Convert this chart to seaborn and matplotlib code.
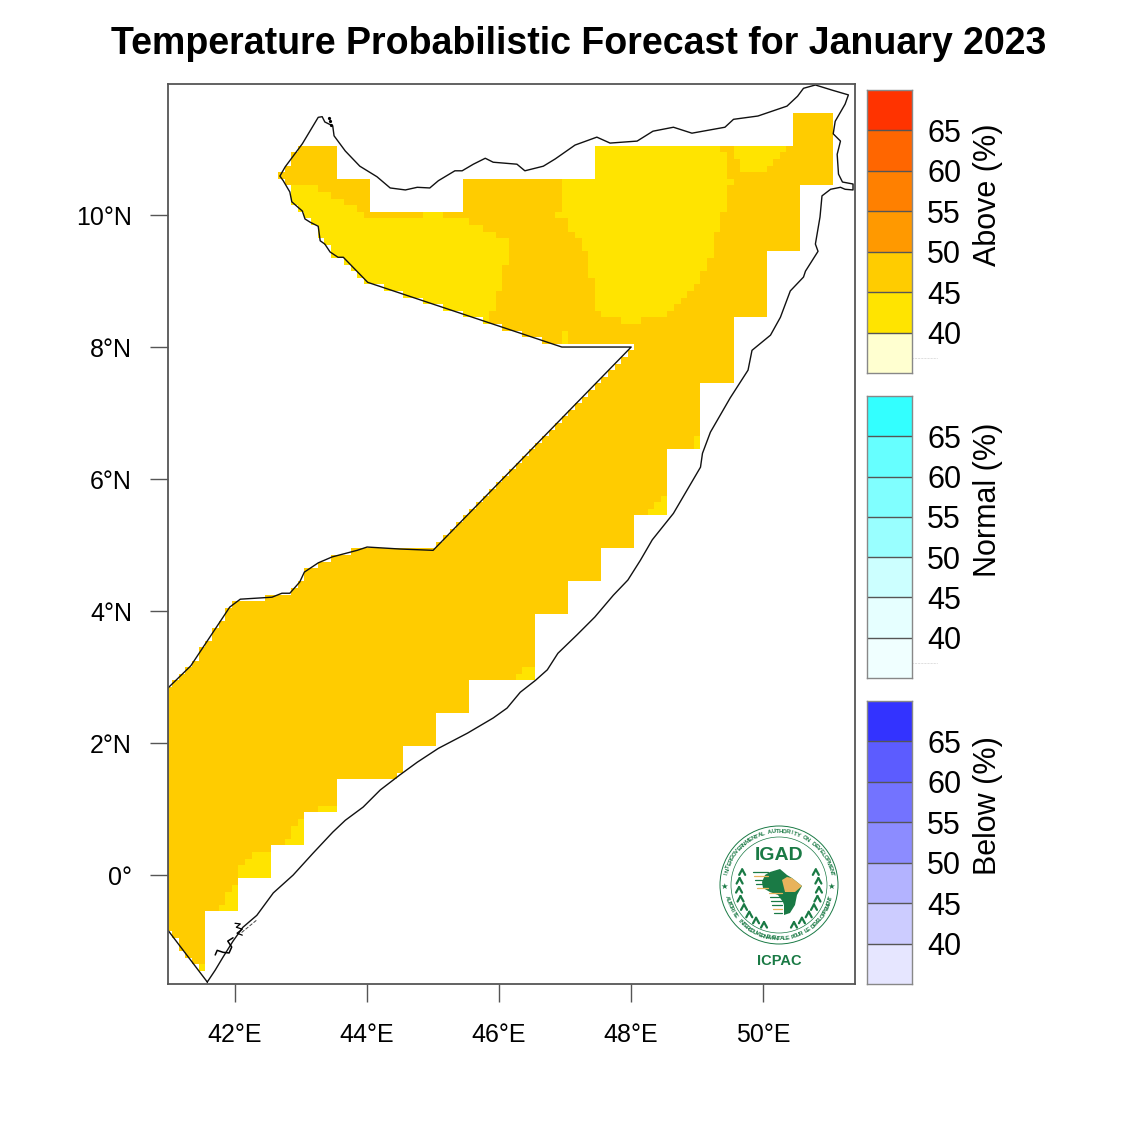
import numpy as np
import pandas as pd
import matplotlib
matplotlib.use('Agg')
import matplotlib.pyplot as plt
from matplotlib.colors import ListedColormap, BoundaryNorm
from matplotlib.path import Path
from matplotlib.patches import Circle, Polygon
import seaborn as sns

# Somalia outline
coast_lon = [41.58, 40.98, 40.98, 41.33, 41.92, 42.08, 42.56, 42.71, 42.83, 42.98, 43.05, 43.26, 43.47, 43.85, 44.0, 44.5,
             45.0, 48.0, 46.95, 44.01, 43.64, 43.56, 43.44, 43.36, 43.29, 43.26, 43.14, 43.06, 43.02, 42.86, 42.83, 42.73,
             42.68, 42.76, 43.02, 43.26, 43.32, 43.36, 43.48, 43.5, 43.67, 43.89, 44.15, 44.35, 44.58, 44.76, 44.95, 45.08,
             45.33, 45.44, 45.61, 45.79, 45.91, 46.27, 46.39, 46.67, 46.85, 47.15, 47.48, 47.68, 48.09, 48.33, 48.64, 48.92,
             49.42, 49.55, 49.92, 50.36, 50.52, 50.61, 50.79, 51.05, 51.29, 51.24, 51.09, 51.06, 51.17, 51.12, 51.14, 51.2,
             51.36, 51.36, 51.24, 51.17, 51.02, 50.89, 50.86, 50.79, 50.83, 50.64, 50.61, 50.41, 50.26, 50.11, 49.83, 49.8,
             49.77, 49.5, 49.2, 49.08, 49.05, 48.64, 48.32, 48.14, 47.95, 47.73, 47.45, 47.18, 46.89, 46.73, 46.55, 46.32,
             46.12, 45.91, 45.52, 45.08, 44.76, 44.5, 44.2, 43.94, 43.67, 43.48, 43.18, 42.88, 42.58, 42.33, 42.12, 41.97,
             41.82, 41.7, 41.58]
coast_lat = [-1.62, -0.83, 2.83, 3.17, 4.06, 4.18, 4.21, 4.27, 4.27, 4.44, 4.59, 4.73, 4.82, 4.92, 4.97, 4.94,
             4.92, 8.0, 8.0, 8.98, 9.36, 9.36, 9.44, 9.56, 9.61, 9.83, 9.89, 9.94, 10.06, 10.2, 10.35, 10.52,
             10.59, 10.73, 11.08, 11.48, 11.49, 11.41, 11.35, 11.2, 10.97, 10.74, 10.58, 10.41, 10.38, 10.42, 10.41, 10.52,
             10.67, 10.67, 10.77, 10.86, 10.8, 10.77, 10.67, 10.74, 10.85, 11.06, 11.18, 11.09, 11.12, 11.27, 11.33, 11.24,
             11.33, 11.45, 11.5, 11.65, 11.8, 11.92, 11.97, 11.89, 11.82, 11.68, 11.42, 11.23, 11.12, 10.92, 10.62, 10.5,
             10.47, 10.38, 10.39, 10.42, 10.39, 10.29, 9.97, 9.56, 9.45, 9.15, 9.06, 8.85, 8.45, 8.18, 7.95, 7.8,
             7.65, 7.23, 6.71, 6.39, 6.18, 5.48, 5.08, 4.77, 4.47, 4.24, 3.91, 3.64, 3.36, 3.11, 2.95, 2.77,
             2.53, 2.38, 2.15, 1.92, 1.71, 1.52, 1.29, 1.03, 0.83, 0.65, 0.33, 0.0, -0.27, -0.61, -0.79, -1.0,
             -1.24, -1.44, -1.62]

# little islands off the south coast
island_lon = [41.70, 41.73, 41.82, 41.91, 41.95, 41.89, 41.97]
island_lat = [-1.21, -1.14, -1.17, -1.18, -1.09, -1.0, -0.95]
island2_lon = [42.0, 42.08, 42.02, 42.11, 42.03, 42.11]
island2_lat = [-0.73, -0.74, -0.79, -0.82, -0.88, -0.91]
island3_lon = [42.1, 42.33]
island3_lat = [-0.87, -0.68]

# forecast grid: rows of filled cells, east edge steps down the coast
band_top = [11.55, 11.05, 10.45, 9.45, 8.45, 7.45, 6.45, 5.45, 4.95, 4.45, 3.95, 2.95, 2.45, 1.95, 1.45, 0.95, 0.45, -0.05, -0.55]
band_bot = [11.05, 10.45, 9.45, 8.45, 7.45, 6.45, 5.45, 4.95, 4.45, 3.95, 2.95, 2.45, 1.95, 1.45, 0.95, 0.45, -0.05, -0.55, -1.45]
band_east = [51.05, 51.05, 50.55, 50.05, 49.55, 49.05, 48.55, 48.05, 47.55, 47.05, 46.55, 45.55, 45.05, 44.55, 43.55, 43.05, 42.55, 42.05, 41.55]
# no data on the north coast
gap_top = [11.55, 11.05, 10.55]
gap_bot = [11.05, 10.55, 10.05]
gap_west = [41.0, 43.55, 44.05]
gap_east = [50.45, 47.45, 45.45]

# cells in the 40-45 class (top, bottom, west, east)
y_top = [10.45, 10.35, 10.25, 10.15, 10.05, 10.05, 9.95, 9.85, 9.75, 9.65, 9.25, 8.85, 8.55,
         11.05, 11.05, 10.95, 10.95, 10.85, 10.85, 10.75, 10.75, 10.65, 10.55, 10.45, 10.05, 9.95, 9.75, 9.65, 9.45, 9.35, 9.15, 9.05, 8.95, 8.85, 8.75, 8.65, 8.55, 8.45, 8.25,
         6.65, 5.75, 5.65, 5.55, 3.15, 3.05, 1.05, 0.85, 0.75, 0.55, 0.35, 0.25, 0.15, -0.15, -0.25, -0.45, -1.35]
y_bot = [10.35, 10.25, 10.15, 10.05, 9.95, 9.95, 9.85, 9.75, 9.65, 9.25, 8.85, 8.55, 7.95,
         10.95, 10.95, 10.85, 10.85, 10.75, 10.75, 10.65, 10.65, 10.55, 10.45, 10.05, 9.95, 9.75, 9.65, 9.45, 9.35, 9.15, 9.05, 8.95, 8.85, 8.75, 8.65, 8.55, 8.45, 8.35, 8.05,
         6.45, 5.65, 5.55, 5.45, 3.05, 2.95, 0.95, 0.75, 0.55, 0.45, 0.25, 0.15, -0.05, -0.25, -0.45, -0.55, -1.45]
y_west = [41.0, 41.0, 41.0, 41.0, 41.0, 44.85, 41.0, 41.0, 41.0, 41.0, 41.0, 41.0, 41.0,
          47.45, 49.55, 47.45, 49.55, 47.45, 49.65, 47.45, 49.65, 47.45, 46.95, 46.95, 46.85, 47.05, 47.15, 47.25, 47.35, 47.35, 47.35, 47.45, 47.45, 47.45, 47.45, 47.45, 47.55, 47.85, 46.95,
          48.95, 48.45, 48.35, 48.25, 46.35, 46.25, 43.25, 42.95, 42.85, 42.75, 42.25, 42.15, 42.05, 41.95, 41.85, 41.75, 41.45]
y_east = [43.25, 43.45, 43.65, 43.85, 43.95, 45.15, 45.55, 45.75, 45.95, 46.15, 46.05, 45.95, 45.85,
          49.35, 50.35, 49.45, 50.25, 49.45, 50.15, 49.45, 50.05, 49.45, 49.55, 49.45, 49.35, 49.35, 49.25, 49.25, 49.25, 49.15, 49.05, 49.05, 48.95, 48.85, 48.75, 48.65, 48.55, 48.15, 47.05,
          49.05, 48.55, 48.55, 48.55, 46.55, 46.55, 43.55, 43.05, 43.05, 43.05, 42.55, 42.55, 42.55, 42.05, 42.05, 42.05, 41.55]

# legend
class_edges = [35, 40, 45, 50, 55, 60, 65, 70]
class_labels = ['40', '45', '50', '55', '60', '65']
above_colors = ['#FFFFD0', '#FFE400', '#FFCC00', '#FF9900', '#FF8000', '#FF6600', '#FF3300']
normal_colors = ['#F0FFFF', '#E6FFFF', '#CCFFFF', '#99FFFF', '#80FFFF', '#66FFFF', '#33FFFF']
below_colors = ['#E6E6FF', '#CCCCFF', '#B3B3FF', '#8C8CFF', '#7373FF', '#5C5CFF', '#3333FF']

lon_ticks = [42, 44, 46, 48, 50]
lat_ticks = [0, 2, 4, 6, 8, 10]

sns.set_theme(style='white')
plt.rcParams['font.family'] = ['Liberation Sans', 'DejaVu Sans']

W = 1125.0


def px_axes(fig, x0, y0, x1, y1):
    return fig.add_axes([x0 / W, 1 - y1 / W, (x1 - x0) / W, (y1 - y0) / W])


# build the 0.1 degree grid
lons = np.round(np.arange(41.0, 51.41, 0.1), 1)
lats = np.round(np.arange(11.9, -1.71, -0.1), 1)
grid_lon, grid_lat = np.meshgrid(lons, lats)
grid = np.full(grid_lon.shape, np.nan)

for top, bot, east in zip(band_top, band_bot, band_east):
    grid[(grid_lat < top) & (grid_lat > bot) & (grid_lon < east)] = 47.5
for top, bot, west, east in zip(gap_top, gap_bot, gap_west, gap_east):
    grid[(grid_lat < top) & (grid_lat > bot) & (grid_lon > west) & (grid_lon < east)] = np.nan
outline = Path(np.column_stack([coast_lon, coast_lat]))
inside = outline.contains_points(np.column_stack([grid_lon.ravel(), grid_lat.ravel()])).reshape(grid.shape)
grid[~inside] = np.nan
for top, bot, west, east in zip(y_top, y_bot, y_west, y_east):
    sel = (grid_lat < top) & (grid_lat > bot) & (grid_lon > west) & (grid_lon < east) & ~np.isnan(grid)
    grid[sel] = 42.5

df = pd.DataFrame(grid, index=lats, columns=lons)


def x_pos(lon):
    return (np.asarray(lon) - 40.95) / 0.1


def y_pos(lat):
    return (11.95 - np.asarray(lat)) / 0.1


fig = plt.figure(figsize=(11.25, 11.25), dpi=100)
fig.patch.set_facecolor('white')

ax = px_axes(fig, 168, 84, 855, 984)
norm = BoundaryNorm(class_edges, len(above_colors))
sns.heatmap(df, ax=ax, cmap=ListedColormap(above_colors), norm=norm, cbar=False,
            xticklabels=False, yticklabels=False, rasterized=True)
ax.plot(x_pos(coast_lon), y_pos(coast_lat), color='#111111', lw=1.0)
ax.plot(x_pos(island_lon), y_pos(island_lat), color='black', lw=1.1)
ax.plot(x_pos(island2_lon), y_pos(island2_lat), color='black', lw=0.9)
ax.plot(x_pos(island3_lon), y_pos(island3_lat), color='#444444', lw=0.7, ls='--')
ax.plot(x_pos([43.42, 43.44, 43.45]), y_pos([11.47, 11.42, 11.37]), 'o', color='black', ms=1.3)
ax.set_xlim(x_pos(40.985), x_pos(51.39))
ax.set_ylim(y_pos(-1.65), y_pos(11.985))

ax.set_xticks(x_pos(lon_ticks))
ax.set_xticklabels([f'{v}°E' for v in lon_ticks], fontsize=18, color='black')
ax.set_yticks(y_pos(lat_ticks))
ax.set_yticklabels(['0°' if v == 0 else f'{v}°N' for v in lat_ticks], fontsize=18, color='black', rotation=0)
ax.tick_params(axis='x', length=13, width=1.0, color='#555555', bottom=True, pad=15)
ax.tick_params(axis='y', length=13, width=1.0, color='#555555', left=True, pad=13)
for s in ax.spines.values():
    s.set_visible(True)
    s.set_color('#555555')
    s.set_linewidth(1.3)

# three legend bars
bars = [(90, 373, above_colors, 'Above (%)'),
        (396, 678, normal_colors, 'Normal (%)'),
        (701, 984, below_colors, 'Below (%)')]
for y0, y1, colors, name in bars:
    cax = px_axes(fig, 867, y0, 912, y1)
    mids = [[(a + b) / 2] for a, b in zip(class_edges[:-1], class_edges[1:])][::-1]
    sns.heatmap(np.array(mids), ax=cax, cmap=ListedColormap(colors), norm=norm, cbar=False,
                xticklabels=False, yticklabels=False, linewidths=0)
    cax.hlines(range(1, 7), 0, 1, color='#555555', lw=1.0)
    for s in cax.spines.values():
        s.set_visible(True)
        s.set_color('#888888')
        s.set_linewidth(1.0)
    cax.set_yticks(range(1, 7))
    cax.set_yticklabels(class_labels[::-1], fontsize=22, color='black', rotation=0)
    cax.yaxis.tick_right()
    cax.tick_params(axis='y', length=0, pad=11)
    fig.text(988 / W, 1 - ((y0 + y1) / 2 - 37) / W, name, rotation=90, ha='center', va='center',
             fontsize=22, color='black')

fig.text(579 / W, 1 - 44 / W, 'Temperature Probabilistic Forecast for January 2023', ha='center', va='center',
         fontsize=27, fontweight='bold', color='black')

# IGAD logo, drawn in picture pixels
logo = fig.add_axes([0, 0, 1, 1], facecolor='none')
logo.set_xlim(0, W)
logo.set_ylim(W, 0)
logo.axis('off')
for y0, y1, colors, name in bars[:2]:
    logo.plot([913, 937], [y1 - 15, y1 - 15], color='#999999', lw=0.4, ls=':')

green = '#1A7A45'
cx, cy = 779, 885
logo.add_patch(Circle((cx, cy), 59, fc='white', ec=green, lw=0.7))
logo.add_patch(Circle((cx, cy), 48, fc='white', ec=green, lw=0.5))


def ring_text(txt, start, end, radius, flip=False):
    for ch, a in zip(txt, np.linspace(start, end, len(txt))):
        r = np.radians(a)
        rot = a - 90 if not flip else a + 90
        logo.text(cx + radius * np.cos(r), cy - radius * np.sin(r), ch, fontsize=4.3, fontweight='bold',
                  color=green, ha='center', va='center', rotation=rot)


ring_text('INTERGOVERNMENTAL AUTHORITY ON DEVELOPMENT', 168, 12, 53.5)
ring_text('AUTORITE INTERGOUVERNEMENTALE POUR LE DEVELOPPEMENT', 194, 346, 53.5, flip=True)
logo.text(cx - 55, cy + 1, '★', color=green, fontsize=6, ha='center', va='center', family='DejaVu Sans')
logo.text(cx + 52, cy + 1, '★', color=green, fontsize=6, ha='center', va='center', family='DejaVu Sans')
logo.text(cx, cy - 29, 'IGAD', color=green, fontsize=14, fontweight='bold', ha='center', va='center')
logo.text(779, 961, 'ICPAC', color=green, fontsize=10.5, fontweight='bold', ha='center', va='center')

africa = [(770, 872), (780, 869), (787, 875), (792, 878), (802, 886), (797, 895), (795, 905), (790, 913), (784, 915),
          (784, 905), (783, 902), (778, 895), (770, 892), (763, 888), (762, 882), (765, 875)]
horn = [(782, 880), (787, 877), (792, 878), (802, 886), (795, 892), (785, 892)]
logo.add_patch(Polygon(africa, fc=green, ec='none'))
logo.add_patch(Polygon(horn, fc='#E8B35C', ec='none'))
for i, yy in enumerate(range(872, 892, 4)):
    logo.plot([753 + i, 768], [yy, yy], color='#E8B35C' if i in (1, 4) else green, lw=0.9)
for i, yy in enumerate(range(893, 915, 4)):
    logo.plot([769 + i, 782], [yy, yy], color='#E8B35C' if i in (0, 4) else green, lw=0.9)
# laurel on both sides
for side in (-1, 1):
    for a in np.radians(np.arange(-68, 35, 13)):
        px = cx + side * 40 * np.cos(a)
        py = cy - 40 * np.sin(a)
        logo.plot([px, px - side * 3], [py, py + 5.5], color=green, lw=1.6)
        logo.plot([px, px + side * 3], [py, py + 5.5], color=green, lw=1.6)

fig.savefig('out.png', dpi=100, facecolor='white')
